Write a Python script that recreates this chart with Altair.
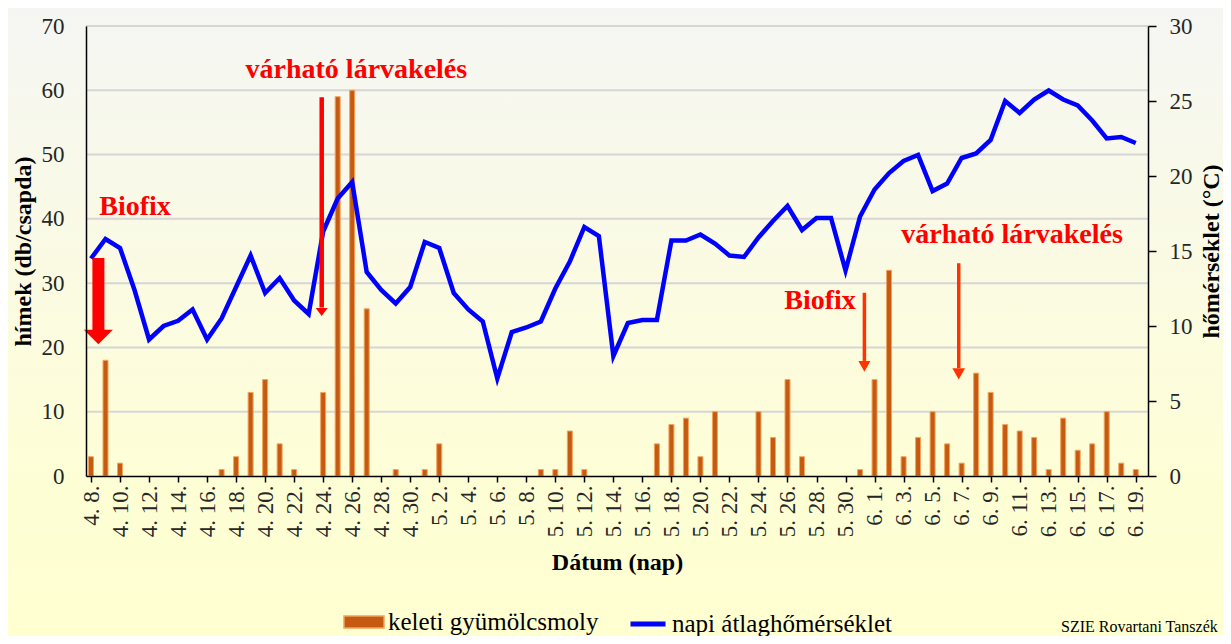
import altair as alt
import pandas as pd

# ---------------- data ----------------
x_tick_labels = [
    "4. 8.", "4. 10.", "4. 12.", "4. 14.", "4. 16.", "4. 18.", "4. 20.", "4. 22.",
    "4. 24.", "4. 26.", "4. 28.", "4. 30.",
    "5. 2.", "5. 4.", "5. 6.", "5. 8.", "5. 10.", "5. 12.", "5. 14.", "5. 16.",
    "5. 18.", "5. 20.", "5. 22.", "5. 24.", "5. 26.", "5. 28.", "5. 30.",
    "6. 1.", "6. 3.", "6. 5.", "6. 7.", "6. 9.", "6. 11.", "6. 13.", "6. 15.",
    "6. 17.", "6. 19.",
]

# daily trap catches (keleti gyümölcsmoly), 4.8. .. 6.19.
moth_counts = [
    3, 18, 2, 0, 0, 0, 0, 0, 0, 1, 3, 13, 15, 5, 1, 0, 13, 59, 60, 26, 0, 1, 0,
    1, 5, 0, 0, 0, 0, 0, 0, 1, 1, 7, 1, 0, 0, 0, 0, 5, 8, 9, 3, 10, 0, 0, 10, 6,
    15, 3, 0, 0, 0, 1,
    15, 32, 3, 6, 10, 5, 2, 16, 13, 8, 7, 6, 1, 9, 4, 5, 10, 2, 1,
]

# daily mean temperature (°C)
temperatures = [
    14.5, 15.8, 15.2, 12.4, 9.1, 10.0, 10.35, 11.1, 9.1, 10.5, 12.6, 14.7, 12.2,
    13.2, 11.7, 10.8, 16.3, 18.5, 19.6, 13.6, 12.4, 11.5, 12.6,
    15.6, 15.2, 12.2, 11.1, 10.3, 6.5, 9.6, 9.9, 10.3, 12.5, 14.3, 16.6, 16.0,
    8.0, 10.2, 10.4, 10.4, 15.7, 15.7, 16.1, 15.5, 14.7, 14.6, 15.9, 17.0, 18.0,
    16.4, 17.2, 17.2, 13.7, 17.3,
    19.1, 20.2, 21.0, 21.4, 19.0, 19.5, 21.2, 21.5, 22.4, 25.0, 24.2, 25.1, 25.7,
    25.1, 24.7, 23.7, 22.5, 22.6, 22.2,
]

grid_values = [10, 20, 30, 40, 50, 60, 70]

# annotations (in day index / trap-count units)
note_labels = ["Biofix", "várható lárvakelés", "Biofix", "várható lárvakelés"]
note_day = [0.57, 10.65, 47.78, 55.84]
note_val = [40.67, 61.86, 25.97, 36.28]

arrow_day = [0.51, 15.9, 53.3, 59.8]
arrow_top = [33.9, 58.9, 28.5, 33.1]
arrow_base = [22.7, 26.2, 17.9, 16.8]
arrow_tip = [20.5, 24.9, 16.2, 15.0]

series_bar = "keleti gyümölcsmoly"
series_line = "napi átlaghőmérséklet"

# ---------------- frames ----------------
days = list(range(len(moth_counts)))
df = pd.DataFrame({"day": days, "moths": moth_counts, "temp": temperatures})
df["s1"] = series_bar
df["s2"] = series_line

grid_df = pd.DataFrame({"g": grid_values})
notes_df = pd.DataFrame({"day": note_day, "v": note_val, "label": note_labels})
arrows_df = pd.DataFrame({"day": arrow_day, "top": arrow_top,
                          "base": arrow_base, "tip": arrow_tip})

FONT = "Liberation Serif, Times New Roman, serif"
W, H = 1062, 450

label_expr = "[" + ",".join("'" + s + "'" for s in x_tick_labels) + "][round(datum.value/2)]"

x_scale = alt.Scale(domain=[0, 72.5], nice=False, zero=False)
x_axis = alt.Axis(
    values=list(range(0, 73, 2)), labelExpr=label_expr, labelAngle=270,
    labelAlign="right", labelBaseline="middle", labelFont=FONT, labelFontSize=23,
    labelColor="#262626", labelPadding=3, tickSize=6, tickColor="#000000",
    tickWidth=1.5, domainColor="#000000", domainWidth=1.5, grid=False,
    title="Dátum (nap)", titleFont=FONT, titleFontSize=24, titleFontWeight="bold",
    titleColor="#000000", titlePadding=14, labelOverlap=False, labelFlush=False,
    zindex=1,
)
x_enc = alt.X("day:Q", scale=x_scale, axis=x_axis)

left_scale = alt.Scale(domain=[0, 70], nice=False, zero=True)
right_scale = alt.Scale(domain=[0, 30], nice=False, zero=True)

left_axis = alt.Axis(
    orient="left", values=list(range(0, 71, 10)), grid=False, ticks=False,
    labelPadding=22, labelFont=FONT, labelFontSize=23, labelColor="#262626",
    domainColor="#000000", domainWidth=1.5,
    title="hímek (db/csapda)", titleFont=FONT, titleFontSize=24,
    titleFontWeight="bold", titleColor="#000000", titlePadding=6, zindex=1,
)
right_axis = alt.Axis(
    orient="right", values=list(range(0, 31, 5)), grid=False, ticks=True,
    tickSize=8, tickColor="#000000", tickWidth=1.5, labelPadding=13,
    labelFont=FONT, labelFontSize=23, labelColor="#262626",
    domainColor="#000000", domainWidth=1.5,
    title="hőmérséklet (°C)", titleFont=FONT, titleFontSize=24,
    titleFontWeight="bold", titleColor="#000000", titlePadding=7,
    titleAngle=270, titleBaseline="top", zindex=1,
)

gradient = {
    "gradient": "linear", "x1": 0, "y1": 0, "x2": 0, "y2": 1,
    "stops": [
        {"offset": 0, "color": "#F5F6F3"},
        {"offset": 0.45, "color": "#FBFBE2"},
        {"offset": 0.75, "color": "#FEFED6"},
        {"offset": 1, "color": "#FFFFD0"},
    ],
}

bg = alt.Chart(alt.Data(values=[{}])).mark_rect(fill=gradient).encode(
    x=alt.value(-78), x2=alt.value(W + 75), y=alt.value(-18), y2=alt.value(H + 160)
)

grid = alt.Chart(grid_df).mark_rule(color="#D6D6D6", strokeWidth=2).encode(
    y=alt.Y("g:Q", scale=left_scale, axis=None)
)

bars = alt.Chart(df).transform_filter("datum.moths > 0").mark_bar(
    size=5, stroke="#F2A35E", strokeWidth=1, clip=True
).encode(
    x=x_enc,
    y=alt.Y("moths:Q", scale=left_scale, axis=left_axis),
    color=alt.Color(
        "s1:N",
        scale=alt.Scale(domain=[series_bar], range=["#C55A11"]),
        legend=alt.Legend(
            title=None, orient="none", legendX=257, legendY=575,
            symbolType="M-1,-0.3L1,-0.3L1,0.3L-1,0.3Z", symbolSize=1600,
            symbolStrokeColor="#F2A35E", symbolStrokeWidth=1.5,
            labelFont=FONT, labelFontSize=25, labelColor="#000000",
            labelOffset=3, padding=0, labelLimit=500,
        ),
    ),
)

line = alt.Chart(df).mark_line(strokeWidth=4.5, strokeJoin="miter").encode(
    x=x_enc,
    y=alt.Y("temp:Q", scale=right_scale, axis=right_axis),
    stroke=alt.Stroke(
        "s2:N",
        scale=alt.Scale(domain=[series_line], range=["#0000FF"]),
        legend=alt.Legend(
            title=None, orient="none", legendX=542, legendY=578,
            symbolType="stroke", symbolSize=1225, symbolStrokeWidth=5,
            labelFont=FONT, labelFontSize=25, labelColor="#000000",
            labelOffset=4, padding=0, labelLimit=500,
        ),
    ),
)


def arrow(i, color, shaft_w, head_path, head_size):
    d = arrows_df.iloc[[i]]
    shaft = alt.Chart(d).mark_rule(color=color, strokeWidth=shaft_w, strokeCap="butt").encode(
        x=x_enc,
        y=alt.Y("top:Q", scale=left_scale, axis=None),
        y2="base:Q",
    )
    head = alt.Chart(d).mark_point(
        shape=head_path, size=head_size, filled=True, fill=color, opacity=1,
        strokeWidth=0,
    ).encode(
        x=x_enc,
        y=alt.Y("tip:Q", scale=left_scale, axis=None),
    )
    return [shaft, head]


arrow_layers = []
arrow_layers += arrow(0, "#FF0000", 12, "M-1,-1L1,-1L0,0Z", 841)
arrow_layers += arrow(1, "#FF0000", 4.5, "M-1,-1.33L1,-1.33L0,0Z", 144)
arrow_layers += arrow(2, "#FF3300", 3.5, "M-1,-1.8L1,-1.8L0,0Z", 144)
arrow_layers += arrow(3, "#FF3300", 3.5, "M-1,-1.8L1,-1.8L0,0Z", 160)

notes = alt.Chart(notes_df).mark_text(
    align="left", baseline="alphabetic", font=FONT, fontSize=28,
    fontWeight="bold", color="#FF0000",
).encode(
    x=x_enc,
    y=alt.Y("v:Q", scale=left_scale, axis=None),
    text="label:N",
)

credit = alt.Chart(alt.Data(values=[{}])).mark_text(
    align="left", baseline="alphabetic", font=FONT, fontSize=16, color="#000000",
).encode(
    x=alt.value(975), y=alt.value(606), text=alt.value("SZIE Rovartani Tanszék")
)

chart = alt.layer(
    bg, grid, bars, line, *arrow_layers, notes, credit
).resolve_scale(
    y="independent"
).properties(
    width=W, height=H,
    autosize=alt.AutoSizeParams(type="none"),
    padding={"left": 78, "top": 18, "right": 75, "bottom": 160},
    background="#FFFFD0",
).configure_view(
    stroke=None
).configure_axis(
    labelFont=FONT, titleFont=FONT
).configure_legend(
    labelFont=FONT
)

chart.save("out.html", embed_options={"renderer": "svg", "actions": False})
